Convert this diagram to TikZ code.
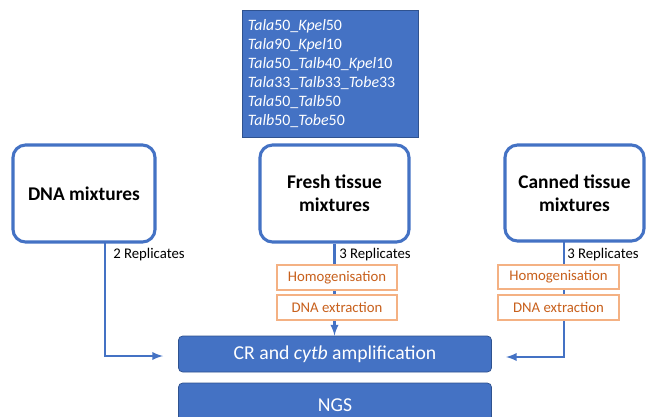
\documentclass[tikz,border=0pt]{standalone}
\usepackage{fontspec}
\setmainfont{Carlito}
\usetikzlibrary{positioning,calc}
\definecolor{ppblue}{HTML}{4472C4}
\definecolor{ppdark}{HTML}{2F528F}
\definecolor{pporange}{HTML}{C8601C}
\definecolor{pplight}{HTML}{F4B183}
\tikzset{
  sample/.style={draw=ppblue, line width=2.2pt, rounded corners=9pt, fill=white,
    font=\fontsize{13.8}{16.5}\selectfont\bfseries, align=center, inner sep=0pt},
  stepbox/.style={draw=pplight, line width=0.8pt, fill=white, text=pporange,
    font=\fontsize{10.5}{12}\selectfont, inner sep=0pt},
  bar/.style={draw=ppdark, line width=0.5pt, fill=ppblue, rounded corners=3pt,
    text=white, font=\fontsize{14}{16}\selectfont, inner sep=0pt},
  flow/.style={draw=ppblue, line width=1.6pt},
  reps/.style={font=\fontsize{10.5}{12}\selectfont, anchor=west, inner sep=0pt}
}
\begin{document}
\begin{tikzpicture}[x=0.025cm, y=-0.025cm]
    \useasboundingbox (0,0) rectangle (646,416);

    % list of mixtures
    \node[draw=ppdark, line width=0.5pt, fill=ppblue, text=white, minimum width=4.4cm, minimum height=3.175cm,
      text width=4.1cm, align=left, inner sep=0pt, font=\fontsize{11.3}{13.6}\selectfont] (list) at (330,73.5)
      {\textit{Tala}50\_\textit{Kpel}50\\
       \textit{Tala}90\_\textit{Kpel}10\\
       \textit{Tala}50\_\textit{Talb}40\_\textit{Kpel}10\\
       \textit{Tala}33\_\textit{Talb}33\_\textit{Tobe}33\\
       \textit{Tala}50\_\textit{Talb}50\\
       \textit{Talb}50\_\textit{Tobe}50};

    % samples
    \node[sample, minimum width=3.55cm, minimum height=2.425cm] (dna) at (84,193.5) {DNA mixtures};
    \node[sample, minimum width=3.725cm, minimum height=2.425cm] (fresh) at (334.5,193.5) {Fresh tissue\\mixtures};
    \node[sample, minimum width=3.475cm, minimum height=2.4cm] (canned) at (574.5,193) {Canned tissue\\mixtures};

    % lab steps
    \node[bar, minimum width=7.825cm, minimum height=0.9cm] (cr) at (335,354) {CR and \textit{cytb} amplification};
    \node[bar, minimum width=7.825cm, minimum height=1.1cm] (ngs) at (335,405) {NGS};

    \coordinate (dnadown) at (105,242);
    \coordinate (dnabend) at (105,356);
    \coordinate (dnaend) at (163,356);
    \coordinate (candown) at (564,241);
    \coordinate (canbend) at (564,357);
    \coordinate (canend) at (506,357);

    \draw[flow, -latex] (dnadown) -- (dnabend) -- (dnaend);
    \draw[flow, -latex] (fresh.south) -- (fresh.south |- cr.north);
    \draw[flow, -latex] (candown) -- (canbend) -- (canend);

    \node[reps] (dnarep) at (113,255) {2 Replicates};
    \node[reps] (freshrep) at (339,255) {3 Replicates};
    \node[reps] (canrep) at (567,255) {3 Replicates};

    \node[stepbox, minimum width=3cm, minimum height=0.625cm] (homf) at (337,277.5) {Homogenisation};
    \node[stepbox, minimum width=3cm, minimum height=0.625cm] (extf) at (337,307.5) {DNA extraction};
    \node[stepbox, minimum width=3.025cm, minimum height=0.6cm] (homc) at (558.5,277) {Homogenisation};
    \node[stepbox, minimum width=3.025cm, minimum height=0.625cm] (extc) at (558.5,307.5) {DNA extraction};
\end{tikzpicture}
\end{document}
